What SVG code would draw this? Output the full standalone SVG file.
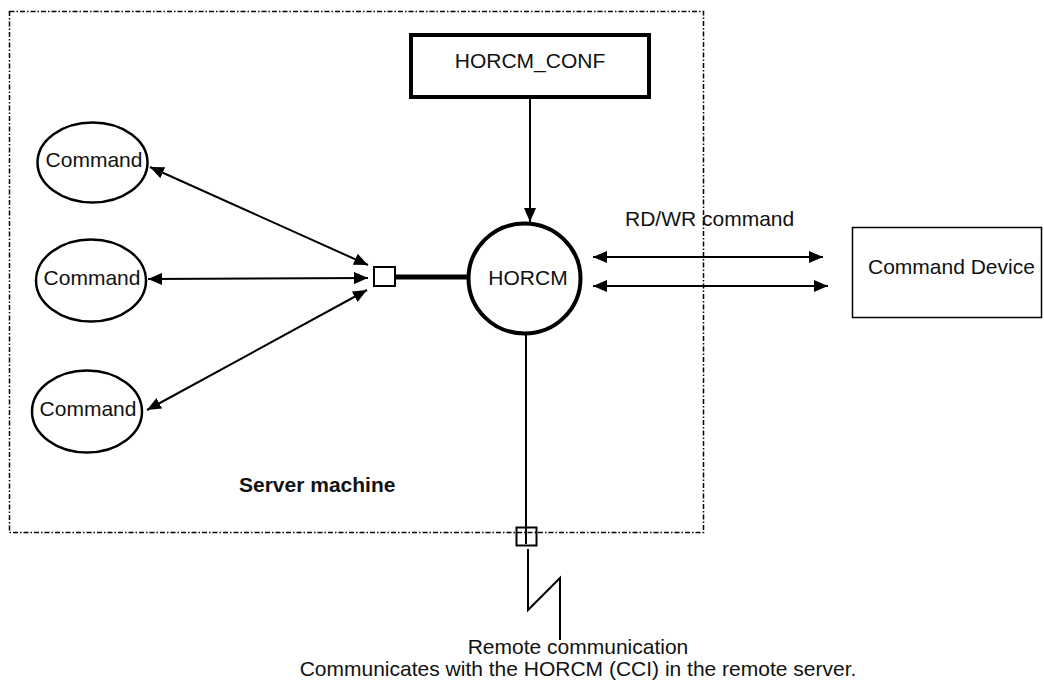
<svg xmlns="http://www.w3.org/2000/svg" width="1044" height="683" viewBox="0 0 1044 683">
<style>
text{font-family:"Liberation Sans",Arial,sans-serif;font-size:21px;fill:#111}
.c{text-anchor:middle}
.ln{stroke:#000;stroke-width:2;fill:none}
.ell{fill:#fff;stroke:#000;stroke-width:2.5}
</style>
<defs>
<marker id="ah" viewBox="0 0 14 12" refX="14" refY="6" markerWidth="14" markerHeight="12" markerUnits="userSpaceOnUse" orient="auto-start-reverse">
<path d="M0,0 L14,6 L0,12 Z" fill="#000"/>
</marker>
</defs>
<rect x="9.5" y="11.5" width="694" height="521" fill="none" stroke="#000" stroke-width="1.5" stroke-dasharray="5,2,1.5,2"/>
<g id="horcm_conf">
<rect x="411" y="35" width="238" height="62" fill="#fff" stroke="#000" stroke-width="4"/>
<text class="c" x="530" y="68">HORCM_CONF</text>
</g>
<g id="connectors">
<line class="ln" x1="530" y1="97" x2="530" y2="222" marker-end="url(#ah)"/>
<line class="ln" x1="150" y1="167" x2="368" y2="265" marker-start="url(#ah)" marker-end="url(#ah)"/>
<line class="ln" x1="148" y1="279" x2="368" y2="278" marker-start="url(#ah)" marker-end="url(#ah)"/>
<line class="ln" x1="147" y1="410" x2="367" y2="290" marker-start="url(#ah)" marker-end="url(#ah)"/>
<line class="ln" x1="593" y1="257" x2="823" y2="257" marker-start="url(#ah)" marker-end="url(#ah)"/>
<line class="ln" x1="593" y1="286" x2="828" y2="286" marker-start="url(#ah)" marker-end="url(#ah)"/>
<line x1="396" y1="277" x2="468" y2="277" stroke="#000" stroke-width="5"/>
<line class="ln" x1="526" y1="334" x2="526" y2="544"/>
<polyline class="ln" points="528,549 528,610 560,578 560,640"/>
</g>
<g id="port_left">
<rect x="374" y="267" width="21" height="19" fill="#fff" stroke="#000" stroke-width="2"/>
</g>
<g id="port_bottom">
<rect x="516.5" y="527.5" width="20" height="18" fill="none" stroke="#000" stroke-width="2"/>
</g>
<g id="horcm">
<ellipse cx="524.5" cy="278.5" rx="56" ry="55" fill="#fff" stroke="#000" stroke-width="4"/>
<text class="c" x="528" y="285">HORCM</text>
</g>
<g id="cmd1">
<ellipse class="ell" cx="92.5" cy="162.5" rx="55" ry="40"/>
<text class="c" x="94" y="167">Command</text>
</g>
<g id="cmd2">
<ellipse class="ell" cx="91" cy="280.5" rx="55" ry="41"/>
<text class="c" x="92" y="285">Command</text>
</g>
<g id="cmd3">
<ellipse class="ell" cx="87" cy="411.5" rx="55" ry="41"/>
<text class="c" x="88" y="416">Command</text>
</g>
<g id="command_device">
<rect x="852.5" y="227.5" width="189" height="90" fill="#fff" stroke="#000" stroke-width="1.5"/>
<text x="868" y="274">Command Device</text>
</g>
<text x="625" y="226">RD/WR command</text>
<text x="239" y="492" style="font-weight:bold">Server machine</text>
<text class="c" x="578" y="654">Remote communication</text>
<text class="c" x="578" y="676">Communicates with the HORCM (CCI) in the remote server.</text>
</svg>
